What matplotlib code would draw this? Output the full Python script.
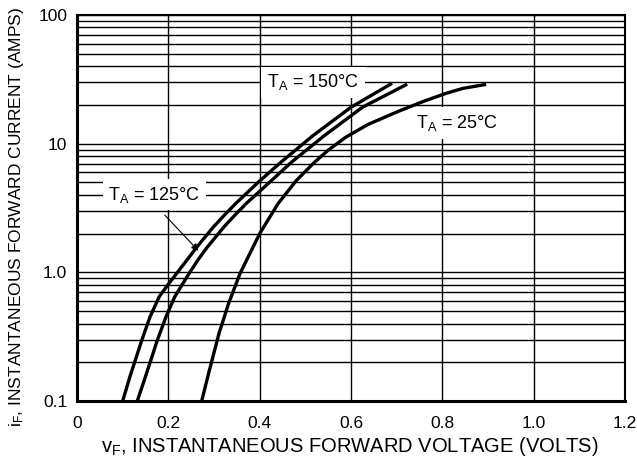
import numpy as np
import matplotlib
matplotlib.use("Agg")
import matplotlib.pyplot as plt
from matplotlib.ticker import FixedLocator, LogLocator, NullFormatter

plt.rcParams['font.family'] = ['Liberation Sans', 'DejaVu Sans']
plt.rcParams['mathtext.default'] = 'regular'

# forward current (A) and forward voltage (V)
i_150 = [0.1, 0.155, 0.298, 0.452, 0.646, 0.80, 1.0, 1.25, 1.55, 2.26,
         2.79, 3.44, 5.06, 7.2, 11.5, 19.2, 29.5]
v_150 = [0.100, 0.116, 0.142, 0.160, 0.180, 0.199, 0.220, 0.241, 0.261, 0.299,
         0.323, 0.348, 0.398, 0.447, 0.516, 0.600, 0.690]

i_125 = [0.1, 0.155, 0.298, 0.452, 0.646, 0.80, 1.0, 1.25, 1.55, 2.26,
         2.79, 3.44, 5.06, 7.2, 11.5, 19.2, 29.0]
v_125 = [0.132, 0.150, 0.176, 0.195, 0.214, 0.230, 0.247, 0.265, 0.284, 0.322,
         0.346, 0.371, 0.423, 0.470, 0.541, 0.625, 0.723]

i_25 = [0.1, 0.174, 0.336, 0.574, 0.98, 2.0, 3.41, 5.16, 7.06, 8.9,
        11.2, 14.1, 17.8, 21.4, 24.6, 26.9, 28.9]
v_25 = [0.273, 0.290, 0.311, 0.332, 0.357, 0.400, 0.440, 0.480, 0.518, 0.550,
        0.588, 0.637, 0.703, 0.760, 0.808, 0.845, 0.896]

x_ticks = [0, 0.2, 0.4, 0.6, 0.8, 1.0, 1.2]
x_labels = ['0', '0.2', '0.4', '0.6', '0.8', '1.0', '1.2']
y_ticks = [0.1, 1, 10, 100]
y_labels = ['0.1', '1.0', '10', '100']

fig = plt.figure(figsize=(6.37, 4.66), dpi=100)
ax = fig.add_axes([0.1209, 0.1395, 0.8603, 0.8283])

for v, i in [(v_150, i_150), (v_125, i_125), (v_25, i_25)]:
    ax.plot(v, i, color='black', lw=2.4, solid_capstyle='butt',
            solid_joinstyle='round', zorder=4)

ax.set_yscale('log')
ax.set_xlim(0, 1.2)
ax.set_ylim(0.1, 100)

ax.xaxis.set_major_locator(FixedLocator(x_ticks))
ax.set_xticklabels(x_labels)
ax.yaxis.set_major_locator(FixedLocator(y_ticks))
ax.yaxis.set_minor_locator(LogLocator(base=10, subs=np.arange(2, 10)))
ax.yaxis.set_minor_formatter(NullFormatter())
ax.set_yticklabels(y_labels)

ax.grid(True, which='both', axis='y', color='black', lw=1.0)
ax.grid(True, which='major', axis='x', color='black', lw=1.0)
ax.tick_params(which='both', length=0, labelsize=12.5)
ax.tick_params(axis='y', pad=7)
ax.tick_params(axis='x', pad=11)

for side in ['left', 'bottom']:
    ax.spines[side].set_linewidth(2.2)
for side in ['top', 'right']:
    ax.spines[side].set_linewidth(1.5)

box = dict(facecolor='white', edgecolor='none', pad=4)
ax.text(0.517, 30, r'$T_A$ = 150°C', fontsize=13, ha='center', va='center', bbox=box, zorder=3)
ax.text(0.832, 14.5, r'$T_A$ = 25°C', fontsize=13, ha='center', va='center', bbox=box, zorder=3)
ax.text(0.169, 4.0, r'$T_A$ = 125°C', fontsize=13, ha='center', va='center', bbox=box, zorder=3)
ax.annotate('', xy=(0.270, 1.42), xytext=(0.188, 2.89),
            arrowprops=dict(arrowstyle='-|>', color='black', lw=0.8, mutation_scale=10),
            zorder=5)

ax.set_xlabel(r'$v_F$, INSTANTANEOUS FORWARD VOLTAGE (VOLTS)', fontsize=14.5)
ax.set_ylabel(r'$i_F$, INSTANTANEOUS FORWARD CURRENT (AMPS)', fontsize=12.5)
ax.xaxis.set_label_coords(0.498, -0.088)
ax.yaxis.set_label_coords(-0.093, 0.477)

fig.savefig('out.png', dpi=100)
